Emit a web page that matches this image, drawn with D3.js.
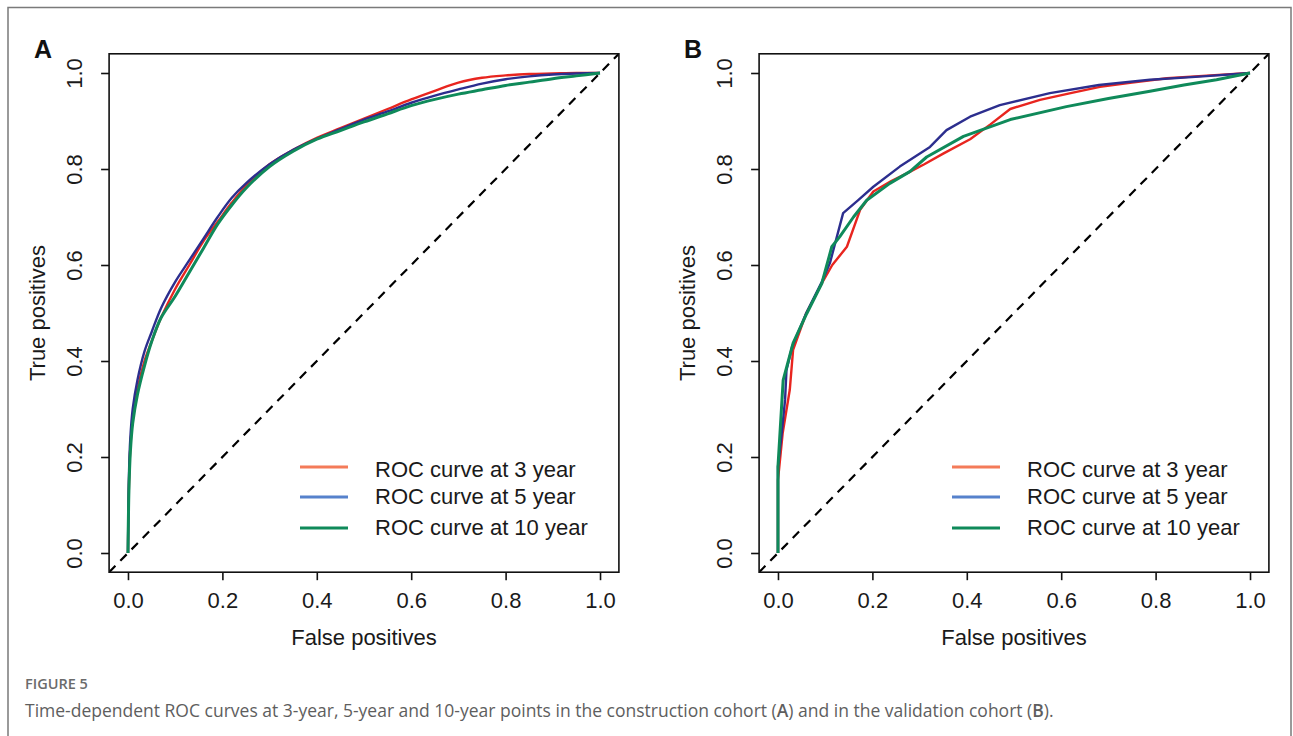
<!DOCTYPE html>
<html>
<head>
<meta charset="utf-8">
<script src="https://cdn.jsdelivr.net/npm/d3@7"></script>
<style>
  body { margin: 0; background: #fff; }
  .plot text { font-family: "Liberation Sans", Arial, sans-serif; }
  .caption { font-family: "Open Sans", Lato, sans-serif; }
</style>
</head>
<body>
<svg id="fig" width="1293" height="736"></svg>
<script>
// ---- data ----
// panel A (construction cohort), shared false positive grid
const fprA = [0, 0.002, 0.005, 0.01, 0.02, 0.035, 0.05, 0.07, 0.1, 0.13, 0.16, 0.19, 0.22, 0.25,
  0.3, 0.35, 0.4, 0.45, 0.5, 0.55, 0.6, 0.65, 0.7, 0.75, 0.8, 0.85, 0.9, 0.95, 1];
const tpr3A = [0, 0.14, 0.22, 0.28, 0.34, 0.40, 0.44, 0.49, 0.55, 0.60, 0.65, 0.69, 0.73, 0.765,
  0.81, 0.84, 0.865, 0.885, 0.905, 0.925, 0.945, 0.963, 0.98, 0.99, 0.995, 0.998, 0.999, 1, 1];
const tpr5A = [0, 0.16, 0.24, 0.30, 0.36, 0.42, 0.46, 0.51, 0.565, 0.61, 0.655, 0.70, 0.74, 0.77,
  0.81, 0.84, 0.863, 0.883, 0.903, 0.92, 0.938, 0.953, 0.966, 0.978, 0.987, 0.993, 0.997, 0.999, 1];
const tpr10A = [0, 0.13, 0.21, 0.27, 0.33, 0.39, 0.44, 0.49, 0.535, 0.585, 0.635, 0.685, 0.725, 0.76,
  0.805, 0.837, 0.862, 0.88, 0.898, 0.915, 0.932, 0.945, 0.956, 0.965, 0.974, 0.981, 0.988, 0.994, 1];

// panel B (validation cohort), each curve has its own steps
const fpr3B = [0, 0, 0.01, 0.025, 0.032, 0.06, 0.093, 0.115, 0.146, 0.174, 0.202, 0.24, 0.273, 0.31,
  0.35, 0.407, 0.45, 0.492, 0.555, 0.62, 0.682, 0.75, 0.824, 0.9, 1];
const tpr3B = [0, 0.152, 0.25, 0.34, 0.423, 0.50, 0.562, 0.60, 0.638, 0.715, 0.753, 0.775, 0.791, 0.81,
  0.832, 0.862, 0.893, 0.925, 0.944, 0.958, 0.971, 0.98, 0.989, 0.994, 1];
const fpr5B = [0, 0, 0.008, 0.015, 0.018, 0.03, 0.06, 0.093, 0.11, 0.138, 0.17, 0.202, 0.258, 0.322,
  0.357, 0.407, 0.47, 0.576, 0.68, 0.788, 0.9, 1];
const tpr5B = [0, 0.18, 0.25, 0.319, 0.381, 0.43, 0.50, 0.565, 0.604, 0.708, 0.735, 0.763, 0.805, 0.846,
  0.881, 0.909, 0.933, 0.958, 0.975, 0.986, 0.993, 1];
const fpr10B = [0, 0, 0.011, 0.032, 0.061, 0.093, 0.114, 0.131, 0.16, 0.188, 0.237, 0.28, 0.315, 0.393,
  0.492, 0.611, 0.7, 0.788, 0.86, 0.929, 1];
const tpr10B = [0, 0.18, 0.36, 0.437, 0.499, 0.562, 0.638, 0.659, 0.70, 0.735, 0.77, 0.795, 0.825, 0.868,
  0.903, 0.93, 0.947, 0.962, 0.975, 0.986, 1];

const seriesNames = ["ROC curve at 3 year", "ROC curve at 5 year", "ROC curve at 10 year"];
const tickValues = [0, 0.2, 0.4, 0.6, 0.8, 1.0];
const curveColors = ["#e8251f", "#2c2e8e", "#0f8a5a"];
const legendColors = ["#f47b59", "#5682cc", "#0f8a5a"];

const svg = d3.select("#fig");

// outer frame of the figure
svg.append("path")
  .attr("d", "M8,740 L8,7.5 L1291,7.5 L1291,740")
  .attr("fill", "none")
  .attr("stroke", "#7a7a7a")
  .attr("stroke-width", 1.5);

const zip = (xs, ys) => xs.map((x, i) => [x, ys[i]]);

// draws one ROC panel; left = pixel of x=0
const drawPanel = (label, left, curves, smooth, legendX) => {
  // R style: axis range padded 4% each side
  const x = d3.scaleLinear().domain([-0.04, 1.04]).range([left - 18.9, left + 472 + 18.9]);
  const y = d3.scaleLinear().domain([-0.04, 1.04]).range([553 + 19.2, 73 - 19.2]);

  const g = svg.append("g").attr("class", "plot");
  const clipId = "clip" + label;
  g.append("clipPath").attr("id", clipId)
    .append("rect")
    .attr("x", x(-0.04)).attr("y", y(1.04))
    .attr("width", x(1.04) - x(-0.04)).attr("height", y(-0.04) - y(1.04));

  // diagonal reference line
  g.append("line")
    .attr("clip-path", "url(#" + clipId + ")")
    .attr("x1", x(-0.04)).attr("y1", y(-0.04))
    .attr("x2", x(1.04)).attr("y2", y(1.04))
    .attr("stroke", "#000")
    .attr("stroke-width", 2.2)
    .attr("stroke-dasharray", "9,7");

  const line = d3.line()
    .x(d => x(d[0]))
    .y(d => y(d[1]))
    .curve(smooth ? d3.curveCatmullRom.alpha(0.5) : d3.curveLinear);

  curves.forEach((c, i) => {
    g.append("path")
      .datum(c)
      .attr("d", line)
      .attr("fill", "none")
      .attr("stroke", curveColors[i])
      .attr("stroke-width", i == 2 ? 3 : 2.4)
      .attr("stroke-linejoin", "round");
  });

  // box
  g.append("rect")
    .attr("x", x(-0.04)).attr("y", y(1.04))
    .attr("width", x(1.04) - x(-0.04)).attr("height", y(-0.04) - y(1.04))
    .attr("fill", "none")
    .attr("stroke", "#111")
    .attr("stroke-width", 1.6);

  // x axis
  const xAxis = d3.axisBottom(x).tickValues(tickValues).tickFormat(d3.format(".1f"))
    .tickSize(8).tickPadding(12);
  const gx = g.append("g").attr("transform", "translate(0," + y(-0.04) + ")").call(xAxis);
  gx.select(".domain").remove();
  gx.selectAll("line").attr("stroke", "#111").attr("stroke-width", 1.6);
  gx.selectAll("text").attr("font-size", 22).attr("fill", "#1a1a1a");

  // y axis, labels rotated like base R
  const yAxis = d3.axisLeft(y).tickValues(tickValues).tickFormat(d3.format(".1f")).tickSize(8);
  const gy = g.append("g").attr("transform", "translate(" + x(-0.04) + ",0)").call(yAxis);
  gy.select(".domain").remove();
  gy.selectAll("line").attr("stroke", "#111").attr("stroke-width", 1.6);
  gy.selectAll("text")
    .attr("x", 0).attr("dy", 0)
    .attr("font-size", 22).attr("fill", "#1a1a1a")
    .attr("text-anchor", "middle")
    .attr("transform", "translate(-27,0) rotate(-90)");

  // axis titles
  g.append("text")
    .attr("x", left + 236).attr("y", 645)
    .attr("text-anchor", "middle")
    .attr("font-size", 22).attr("fill", "#1a1a1a")
    .text("False positives");
  g.append("text")
    .attr("transform", "translate(" + (left - 83) + ",313) rotate(-90)")
    .attr("text-anchor", "middle")
    .attr("font-size", 22).attr("fill", "#1a1a1a")
    .text("True positives");

  // panel letter
  g.append("text")
    .attr("x", left - 94).attr("y", 58)
    .attr("font-size", 25).attr("font-weight", "bold").attr("fill", "#111")
    .text(label);

  // legend
  const legendY = [467, 497, 528];
  const textY = [477, 504, 535];
  seriesNames.forEach((name, i) => {
    g.append("line")
      .attr("x1", legendX).attr("x2", legendX + 48)
      .attr("y1", legendY[i]).attr("y2", legendY[i])
      .attr("stroke", legendColors[i])
      .attr("stroke-width", 3);
    g.append("text")
      .attr("x", legendX + 75).attr("y", textY[i])
      .attr("font-size", 22).attr("fill", "#1a1a1a")
      .text(name);
  });
};

drawPanel("A", 128, [zip(fprA, tpr3A), zip(fprA, tpr5A), zip(fprA, tpr10A)], true, 300);
drawPanel("B", 778, [zip(fpr3B, tpr3B), zip(fpr5B, tpr5B), zip(fpr10B, tpr10B)], false, 952);

// caption
svg.append("text")
  .attr("class", "caption")
  .attr("x", 25).attr("y", 689)
  .attr("font-size", 14.5).attr("font-weight", 600).attr("fill", "#6b6b6b")
  .text("FIGURE 5");
svg.append("text")
  .attr("class", "caption")
  .attr("x", 25).attr("y", 717)
  .attr("font-size", 17.5).attr("fill", "#5e5e5e")
  .html("Time-dependent ROC curves at 3-year, 5-year and 10-year points in the construction cohort (<tspan font-weight='600'>A</tspan>) and in the validation cohort (<tspan font-weight='600'>B</tspan>).");
</script>
</body>
</html>
